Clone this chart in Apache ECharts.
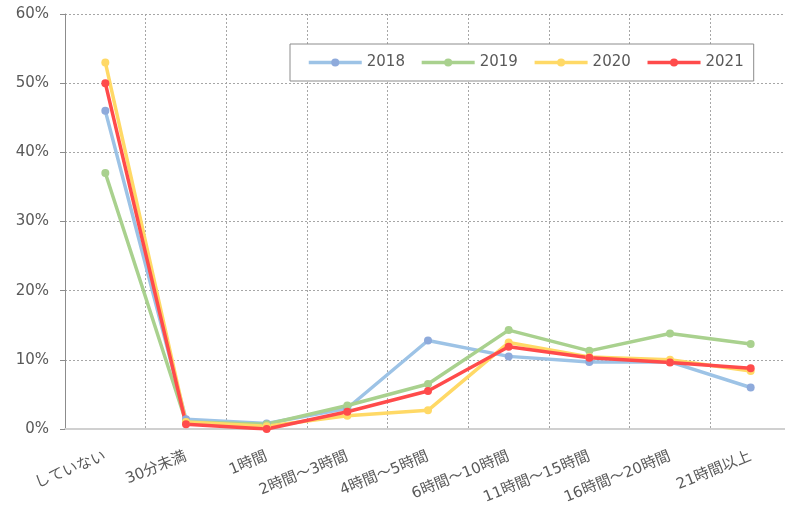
<!DOCTYPE html>
<html>
<head>
<meta charset="utf-8">
<script src="https://cdn.jsdelivr.net/npm/echarts@6/dist/echarts.min.js"></script>
<style>
  html, body { margin: 0; padding: 0; background: #fff; }
  #chart { width: 785px; height: 506px; }
</style>
</head>
<body>
<div id="chart"></div>
<script>
// categories (hours per week)
var categories = ['していない', '30分未満', '1時間', '2時間～3時間', '4時間～5時間',
  '6時間～10時間', '11時間～15時間', '16時間～20時間', '21時間以上']

// percentages
var years = ['2018', '2019', '2020', '2021']
var data2018 = [46.0, 1.4, 0.8, 3.0, 12.8, 10.5, 9.7, 9.7, 6.0]
var data2019 = [37.0, 1.0, 0.7, 3.4, 6.5, 14.3, 11.3, 13.8, 12.3]
var data2020 = [53.0, 1.0, 0.4, 1.9, 2.7, 12.5, 10.4, 10.0, 8.4]
var data2021 = [50.0, 0.7, 0.0, 2.5, 5.5, 11.9, 10.3, 9.6, 8.8]

var lineColors = ['#9dc3e6', '#a9d18e', '#ffd966', '#ff4b4b']
var dotColors = ['#8eaadb', '#a9d18e', '#ffd966', '#ff4b4b']
var font = '"DejaVu Sans", "Noto Sans CJK JP", sans-serif'

var chart = echarts.init(document.getElementById('chart'))

function makeSeries (name, values, i) {
  return {
    name: name,
    type: 'line',
    data: values,
    symbol: 'circle',
    symbolSize: 8,
    lineStyle: { color: lineColors[i], width: 3.5 },
    itemStyle: { color: dotColors[i] },
    emphasis: { disabled: true },
    animation: false
  }
}

chart.setOption({
  textStyle: { fontFamily: font },
  // plot runs a little past the right edge, like the original
  grid: { left: 65, width: 726, top: 14, bottom: 77, outerBoundsMode: 'none' },
  legend: {
    data: years,
    left: 290,
    top: 44,
    padding: [11, 10, 11, 17],
    itemWidth: 53,
    itemHeight: 10,
    itemGap: 15,
    borderColor: '#8c8c8c',
    borderWidth: 1,
    backgroundColor: '#fff',
    lineStyle: { width: 3.5 },
    textStyle: { color: '#595959', fontSize: 15, fontFamily: font }
  },
  xAxis: {
    type: 'category',
    data: categories,
    boundaryGap: true,
    axisLine: { lineStyle: { color: '#d0d0d0', width: 2 } },
    axisTick: { show: false },
    axisLabel: { rotate: 22, margin: 27, color: '#595959', fontSize: 15, fontFamily: font, interval: 0 },
    splitLine: { show: true, lineStyle: { color: '#a6a6a6', type: [2, 2], width: 1 } }
  },
  yAxis: {
    type: 'value',
    min: 0,
    max: 60,
    interval: 10,
    axisLine: { show: true, lineStyle: { color: '#8c8c8c' } },
    axisTick: { show: true, length: 5, lineStyle: { color: '#8c8c8c' } },
    axisLabel: { formatter: '{value}%', color: '#595959', fontSize: 15, fontFamily: font, margin: 16 },
    splitLine: { lineStyle: { color: '#a6a6a6', type: [2, 2], width: 1 } }
  },
  series: [
    makeSeries(years[0], data2018, 0),
    makeSeries(years[1], data2019, 1),
    makeSeries(years[2], data2020, 2),
    makeSeries(years[3], data2021, 3)
  ]
})
</script>
</body>
</html>
